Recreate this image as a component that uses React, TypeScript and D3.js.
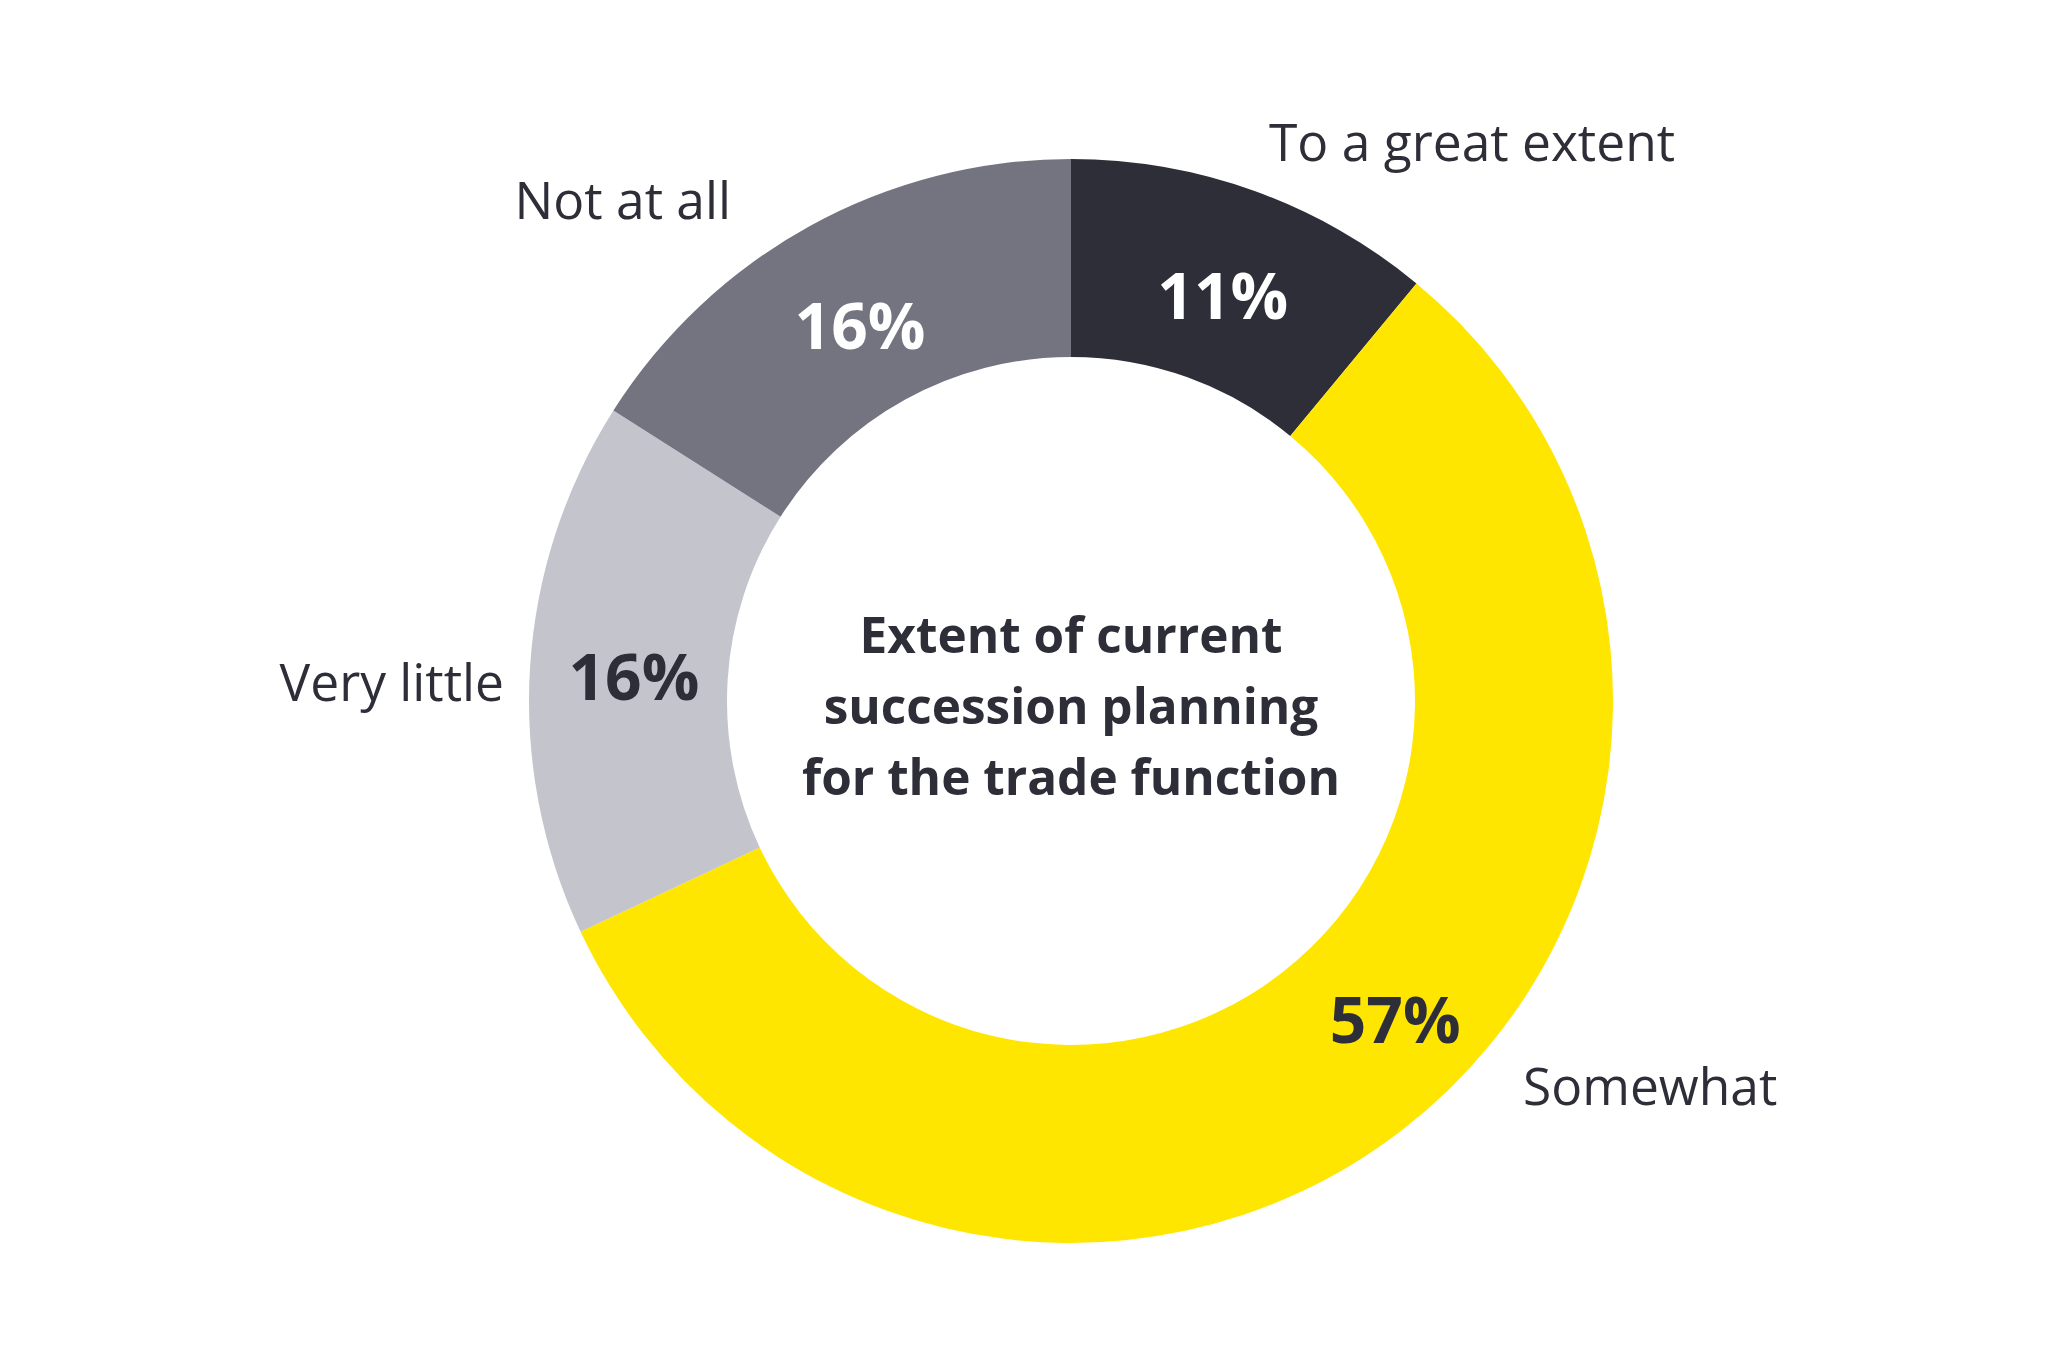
import React from "react";
import * as d3 from "d3";

const categories = ["To a great extent", "Somewhat", "Very little", "Not at all"];
const values = [11, 57, 16, 16];
const valueLabels = ["11%", "57%", "16%", "16%"];
const titleLines = ["Extent of current", "succession planning", "for the trade function"];

const colors = ["#2e2e38", "#ffe600", "#c4c4cd", "#747480"];
const valueColors = ["#ffffff", "#2e2e38", "#2e2e38", "#ffffff"];
// per-slice label placement tweaks (style only)
const valueAngleShift = [0.01, -0.14, 0, -0.005];
const valueRadius = [436, 452, 438, 434];
const catPos = [
  { dx: 198, dy: -540, anchor: "start" },
  { dx: 452, dy: 404, anchor: "start" },
  { dx: -567, dy: 0, anchor: "end" },
  { dx: -340, dy: -482, anchor: "end" },
];

const W = 2048;
const H = 1365;
const cx = 1071;
const cy = 701;
const outerR = 542;
const innerR = 344;
const textColor = "#2e2e38";

export default function App() {
  const pie = d3.pie<number>().sort(null).value((d) => d)(values);
  const arc = d3.arc<d3.PieArcDatum<number>>().innerRadius(innerR).outerRadius(outerR);

  return (
    <svg
      width={W}
      height={H}
      style={{ position: "absolute", left: 0, top: 0, background: "#fff" }}
    >
      <rect width={W} height={H} fill="#fff" />
      <g transform={`translate(${cx},${cy})`}>
        {pie.map((p, i) => (
          <path key={i} d={arc(p) || ""} fill={colors[i]} />
        ))}
        {pie.map((p, i) => {
          const a = (p.startAngle + p.endAngle) / 2 + valueAngleShift[i];
          const r = valueRadius[i];
          const x = r * Math.sin(a);
          const y = -r * Math.cos(a);
          return (
            <text
              key={"v" + i}
              x={x}
              y={y}
              dy="0.42em"
              textAnchor="middle"
              fill={valueColors[i]}
              fontFamily="'Open Sans', sans-serif"
              fontWeight={700}
              fontSize={64}
            >
              {valueLabels[i]}
            </text>
          );
        })}
        {categories.map((c, i) => (
          <text
            key={"c" + i}
            x={catPos[i].dx}
            y={catPos[i].dy}
            textAnchor={catPos[i].anchor as any}
            fill={textColor}
            fontFamily="'Open Sans', sans-serif"
            fontWeight={400}
            fontSize={51.5}
          >
            {c}
          </text>
        ))}
        {titleLines.map((t, i) => (
          <text
            key={"t" + i}
            x={0}
            y={-48 + i * 71}
            textAnchor="middle"
            fill={textColor}
            fontFamily="'Open Sans', sans-serif"
            fontWeight={700}
            fontSize={49.5}
          >
            {t}
          </text>
        ))}
      </g>
    </svg>
  );
}
